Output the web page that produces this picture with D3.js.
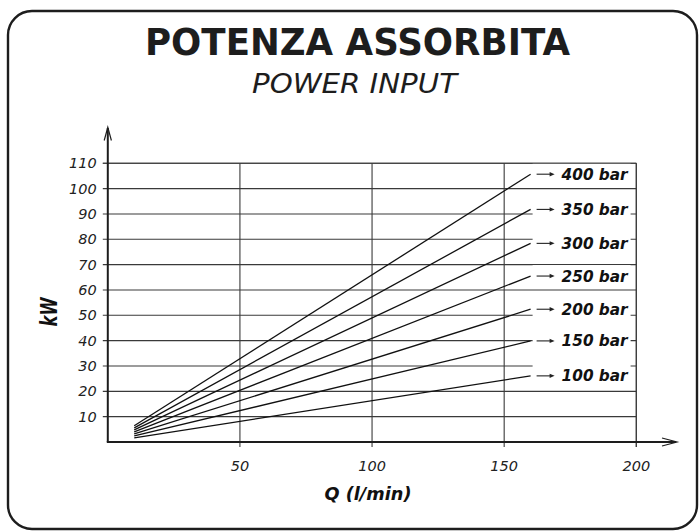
<!DOCTYPE html>
<html>
<head>
<meta charset="utf-8">
<script src="https://cdn.jsdelivr.net/npm/d3@7"></script>
<style>
  html, body { margin: 0; padding: 0; background: #fff; }
  svg { display: block; }
</style>
</head>
<body>
<svg id="chart" width="699" height="531"></svg>
<script>
// ---- data ----
const pressures = [400, 350, 300, 250, 200, 150, 100];
const seriesLabels = ["400 bar", "350 bar", "300 bar", "250 bar", "200 bar", "150 bar", "100 bar"];
const qStart = 10;
const qEnd = 160;
const kwAtStart = [6.4, 5.6, 4.8, 4.0, 3.2, 2.4, 1.6];
const kwAtEnd = [105.7, 91.8, 78.4, 65.5, 52.4, 39.9, 26.1];
const xTicks = [50, 100, 150, 200];
const yTicks = [10, 20, 30, 40, 50, 60, 70, 80, 90, 100, 110];
const titleText = "POTENZA ASSORBITA";
const subtitleText = "POWER INPUT";
const xAxisTitle = "Q (l/min)";
const yAxisTitle = "kW";

// ---- layout ----
const svg = d3.select("#chart");
const x = d3.scaleLinear().domain([0, 200]).range([107.8, 636.3]);
const y = d3.scaleLinear().domain([0, 110]).range([442, 163.3]);
const ink = "#1d1d1d";
const gridCol = "#3a3a3a";

// frame
svg.append("rect")
  .attr("x", 8).attr("y", 11).attr("width", 689).attr("height", 518)
  .attr("rx", 24).attr("ry", 24)
  .attr("fill", "none").attr("stroke", ink).attr("stroke-width", 2.4);

// titles
svg.append("text")
  .attr("x", 357.5).attr("y", 55)
  .attr("text-anchor", "middle")
  .attr("font-family", "DejaVu Sans").attr("font-weight", "bold")
  .attr("font-size", 38).attr("fill", ink)
  .attr("textLength", 425).attr("lengthAdjust", "spacingAndGlyphs")
  .text(titleText);
svg.append("text")
  .attr("x", 354.5).attr("y", 93.3)
  .attr("text-anchor", "middle")
  .attr("font-family", "DejaVu Sans").attr("font-style", "italic")
  .attr("font-size", 27).attr("fill", ink)
  .attr("textLength", 205).attr("lengthAdjust", "spacingAndGlyphs")
  .text(subtitleText);

const g = svg.append("g");

// horizontal gridlines (with left tick stubs)
g.selectAll("line.hgrid").data(yTicks).join("line")
  .attr("class", "hgrid")
  .attr("x1", x(0) - 5).attr("x2", x(200))
  .attr("y1", d => y(d)).attr("y2", d => y(d))
  .attr("stroke", gridCol).attr("stroke-width", 1.1);

// vertical gridlines (with bottom tick stubs)
g.selectAll("line.vgrid").data(xTicks).join("line")
  .attr("class", "vgrid")
  .attr("x1", d => x(d)).attr("x2", d => x(d))
  .attr("y1", y(110)).attr("y2", y(0) + 5)
  .attr("stroke", gridCol).attr("stroke-width", 1.1);

// y tick labels
g.selectAll("text.ylab").data(yTicks).join("text")
  .attr("class", "ylab")
  .attr("x", x(0) - 11).attr("y", d => y(d) + 5)
  .attr("text-anchor", "end")
  .attr("font-family", "DejaVu Sans").attr("font-style", "italic")
  .attr("font-size", 14.5).attr("fill", "#222")
  .text(d => d);

// x tick labels
g.selectAll("text.xlab").data(xTicks).join("text")
  .attr("class", "xlab")
  .attr("x", d => x(d)).attr("y", y(0) + 29)
  .attr("text-anchor", "middle")
  .attr("font-family", "DejaVu Sans").attr("font-style", "italic")
  .attr("font-size", 14.5).attr("fill", "#222")
  .text(d => d);

// series lines
const series = pressures.map((p, i) => ({
  label: seriesLabels[i],
  pts: [[qStart, kwAtStart[i]], [qEnd, kwAtEnd[i]]]
}));
const line = d3.line().x(d => x(d[0])).y(d => y(d[1]));
g.selectAll("path.series").data(series).join("path")
  .attr("class", "series")
  .attr("d", d => line(d.pts))
  .attr("fill", "none").attr("stroke", "#111").attr("stroke-width", 1.3);

// label boxes (white, hide gridlines)
const endX = x(qEnd);
const lab = g.selectAll("g.lab").data(series).join("g")
  .attr("class", "lab")
  .attr("transform", d => `translate(0,${y(d.pts[1][1])})`);
lab.append("rect")
  .attr("x", endX + 2).attr("y", -11).attr("width", 98).attr("height", 22)
  .attr("fill", "#fff");
lab.append("line")
  .attr("x1", endX + 6).attr("x2", endX + 20)
  .attr("y1", 0).attr("y2", 0)
  .attr("stroke", "#222").attr("stroke-width", 1.1);
lab.append("path")
  .attr("d", `M${endX + 19},-2.2 L${endX + 24},0 L${endX + 19},2.2 Z`)
  .attr("fill", "#222");
lab.append("text")
  .attr("x", endX + 31).attr("y", 5.5)
  .attr("font-family", "DejaVu Sans").attr("font-weight", "bold").attr("font-style", "italic")
  .attr("font-size", 15.3).attr("fill", "#111")
  .text(d => d.label);

// redraw top gridline and right gridline above boxes
g.append("line")
  .attr("x1", x(0) - 5).attr("x2", x(200))
  .attr("y1", y(110)).attr("y2", y(110))
  .attr("stroke", gridCol).attr("stroke-width", 1.1);
g.append("line")
  .attr("x1", x(200)).attr("x2", x(200))
  .attr("y1", y(110)).attr("y2", y(0) + 5)
  .attr("stroke", gridCol).attr("stroke-width", 1.1);

// axes
g.append("line")
  .attr("x1", x(0)).attr("x2", x(0))
  .attr("y1", y(0)).attr("y2", 128)
  .attr("stroke", ink).attr("stroke-width", 2);
g.append("path")
  .attr("d", `M${x(0) - 3.6},140.5 L${x(0)},127.3 L${x(0) + 3.6},140.5`)
  .attr("fill", "none").attr("stroke", ink).attr("stroke-width", 1.2);
g.append("line")
  .attr("x1", x(0) - 1).attr("x2", 676)
  .attr("y1", y(0)).attr("y2", y(0))
  .attr("stroke", ink).attr("stroke-width", 2);
g.append("path")
  .attr("d", `M662,${y(0) - 4} L677,${y(0)} L662,${y(0) + 4}`)
  .attr("fill", "none").attr("stroke", ink).attr("stroke-width", 1.2);

// axis titles
svg.append("text")
  .attr("x", 368).attr("y", 500)
  .attr("text-anchor", "middle")
  .attr("font-family", "DejaVu Sans").attr("font-weight", "bold").attr("font-style", "italic")
  .attr("font-size", 17).attr("fill", "#111")
  .attr("textLength", 87).attr("lengthAdjust", "spacingAndGlyphs")
  .text(xAxisTitle);
svg.append("text")
  .attr("transform", "translate(57,312) rotate(-90)")
  .attr("text-anchor", "middle")
  .attr("font-family", "DejaVu Sans").attr("font-weight", "bold").attr("font-style", "italic")
  .attr("font-size", 23).attr("fill", "#111")
  .attr("textLength", 29).attr("lengthAdjust", "spacingAndGlyphs")
  .text(yAxisTitle);
</script>
</body>
</html>
